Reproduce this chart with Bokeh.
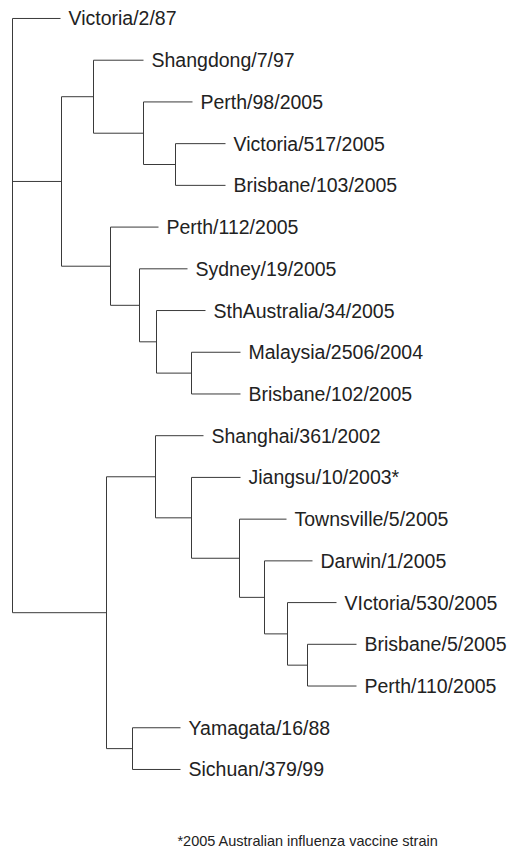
from bokeh.plotting import figure
from bokeh.models import Range1d, Label, ColumnDataSource
from bokeh.core.properties import value
from bokeh.embed import file_html
from bokeh.resources import INLINE

# ---- tree data (branch lengths in arbitrary distance units) ----
tip_names = [
    "Victoria/2/87", "Shangdong/7/97", "Perth/98/2005", "Victoria/517/2005",
    "Brisbane/103/2005", "Perth/112/2005", "Sydney/19/2005", "SthAustralia/34/2005",
    "Malaysia/2506/2004", "Brisbane/102/2005", "Shanghai/361/2002", "Jiangsu/10/2003*",
    "Townsville/5/2005", "Darwin/1/2005", "VIctoria/530/2005", "Brisbane/5/2005",
    "Perth/110/2005", "Yamagata/16/88", "Sichuan/379/99",
]
tip_parents = [
    "root", "A1", "A1a", "A1b", "A1b", "A2", "A2a", "A2b", "A2c", "A2c",
    "B1", "B1a", "B1b", "B1c", "B1d", "B1e", "B1e", "B2", "B2",
]
tip_lengths = [48, 50, 49, 50, 50, 48, 48, 49, 49, 49, 48, 49, 47, 48, 49, 49, 49, 48, 48]

node_names = ["root", "A", "A1", "A1a", "A1b", "A2", "A2a", "A2b", "A2c",
              "B", "B1", "B1a", "B1b", "B1c", "B1d", "B1e", "B2"]
node_parents = [None, "root", "A", "A1", "A1a", "A", "A2", "A2a", "A2b",
                "root", "B", "B1", "B1a", "B1b", "B1c", "B1d", "B"]
node_lengths = [0, 49, 32, 50, 32, 49, 29, 17, 35, 94, 49, 36, 48, 25, 23, 20, 26]

footnote = "*2005 Australian influenza vaccine strain"

# ---- layout computed from the tree ----
nx = {}
for n, par, ln in zip(node_names, node_parents, node_lengths):
    nx[n] = 0.0 if par is None else nx[par] + ln
tx = [nx[p] + l for p, l in zip(tip_parents, tip_lengths)]
ty = list(range(len(tip_names)))

ny = {}
for n in reversed(node_names):
    ys = [ty[i] for i, p in enumerate(tip_parents) if p == n]
    ys += [ny[m] for m, p in zip(node_names, node_parents) if p == n]
    ny[n] = (min(ys) + max(ys)) / 2.0
vmin, vmax = {}, {}
for n in node_names:
    ys = [ty[i] for i, p in enumerate(tip_parents) if p == n]
    ys += [ny[m] for m, p in zip(node_names, node_parents) if p == n]
    vmin[n], vmax[n] = min(ys), max(ys)

hx0, hx1, hy = [], [], []
for i, p in enumerate(tip_parents):
    hx0.append(nx[p]); hx1.append(tx[i]); hy.append(ty[i])
for n, p in zip(node_names, node_parents):
    if p is not None:
        hx0.append(nx[p]); hx1.append(nx[n]); hy.append(ny[n])
vx = [nx[n] for n in node_names]
vy0 = [vmin[n] for n in node_names]
vy1 = [vmax[n] for n in node_names]

W, H = 511, 852
p = figure(width=W, height=H, output_backend="svg", toolbar_location=None,
           x_range=Range1d(-12, 499), y_range=Range1d(19.99, -0.431),
           min_border=0, outline_line_color=None)
p.axis.visible = False
p.grid.visible = False
p.background_fill_color = "white"
p.border_fill_color = "white"

lc = "#3a3a3a"
p.segment(x0=hx0, y0=hy, x1=hx1, y1=hy, line_color=lc, line_width=1)
p.segment(x0=vx, y0=vy0, x1=vx, y1=vy1, line_color=lc, line_width=1)

src = ColumnDataSource(dict(x=tx, y=ty, t=tip_names))
p.text(x="x", y="y", text="t", source=src, x_offset=8,
       text_font=value("Liberation Sans"), text_font_size="19.5px",
       text_color="#222222", text_baseline="middle", text_align="left")

p.add_layout(Label(x=295.5, y=12, y_units="screen", text=footnote,
                   text_align="center", text_baseline="middle",
                   text_font="Liberation Sans", text_font_size="14.5px",
                   text_color="#222222"))

open("out.html", "w").write(file_html(p, INLINE))
